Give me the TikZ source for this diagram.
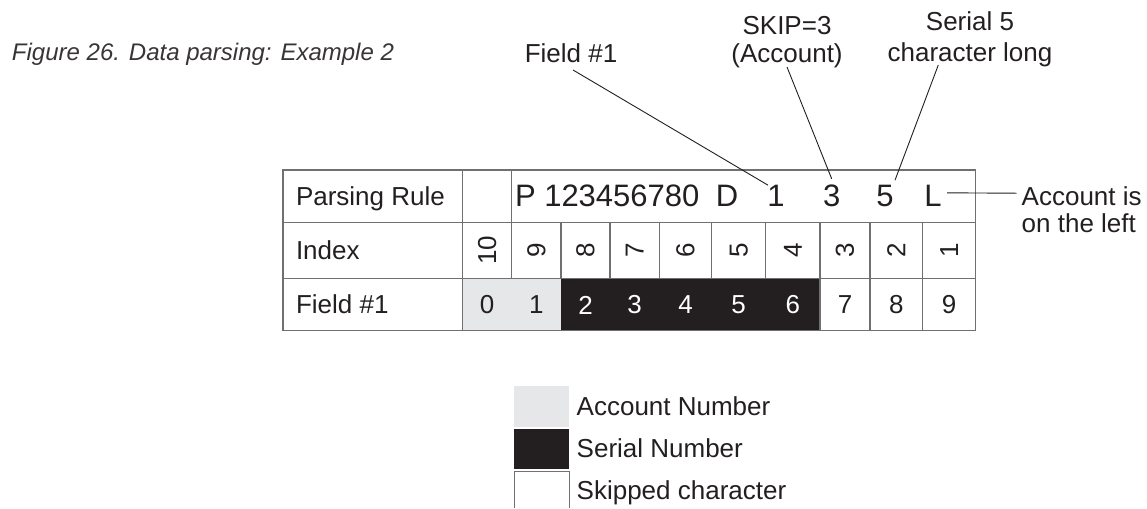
\documentclass[tikz,border=0pt]{standalone}
\usepackage{fontspec}
\setmainfont{Liberation Sans}
\definecolor{ink}{HTML}{231F20}
\definecolor{lightfill}{HTML}{E6E7E8}
\definecolor{gridc}{HTML}{707072}
\begin{document}
\begin{tikzpicture}[x=1pt,y=-1pt,
  every node/.style={inner sep=0pt, outer sep=0pt, text=ink},
  lbl/.style={font=\fontsize{26}{31}\selectfont},
  rulestr/.style={font=\fontsize{31}{37}\selectfont},
  capt/.style={font=\fontsize{24}{29}\selectfont\itshape, text=ink!90},
  gridline/.style={draw=gridc, line width=1.3pt},
  leader/.style={draw=ink, line width=0.9pt},
  legbox/.style={minimum width=54.7pt, anchor=north west}
]
\useasboundingbox (0,0) rectangle (1147,508);

% caption
\node[capt, anchor=base west] (cap) at (12,61) {Figure 26. Data parsing: Example 2};

% shaded cells
\fill[lightfill] (462.7,278.5) rectangle (561,330.5);
\fill[ink] (561,278.5) rectangle (820,330.5);

% table grid
\draw[gridline] (283,170) rectangle (975.5,330.5);
\draw[gridline] (283,222.5) -- (975.5,222.5);
\draw[gridline] (283,278.5) -- (975.5,278.5);
\draw[gridline] (462.7,170) -- (462.7,330.5);
\draw[gridline] (511.7,170) -- (511.7,278.5);
\foreach \x in {561,610,659.3,711.7,765.7} \draw[gridline] (\x,222.5) -- (\x,278.5);
\foreach \x in {820,870,922.7} \draw[gridline] (\x,222.5) -- (\x,330.5);

% row labels
\node[lbl, anchor=base west] (plabel) at (296,205) {Parsing Rule};
\node[lbl, anchor=base west] (ilabel) at (296,259.5) {Index};
\node[lbl, anchor=base west] (flabel) at (296,313.5) {Field \#1};

% parsing rule string
\node[rulestr, anchor=base west] (rP) at (515,206.5) {P 123456780};
\node[rulestr, anchor=base] (rD) at (727,206.5) {D};
\node[rulestr, anchor=base] (r1) at (776,206.5) {1};
\node[rulestr, anchor=base] (r3) at (831.7,206.5) {3};
\node[rulestr, anchor=base] (r5) at (885,206.5) {5};
\node[rulestr, anchor=base] (rL) at (933,206.5) {L};

% index row (rotated)
\foreach \c/\t in {487.2/10, 536.35/9, 585.5/8, 634.65/7, 685.5/6, 738.7/5, 792.85/4, 845/3, 896.35/2, 949.1/1}
  \node[lbl, rotate=90] (idx\t) at (\c,250.5) {\t};

% field row
\foreach \c/\t in {487.2/0, 536.35/1}
  \node[lbl] (fld\t) at (\c,305) {\t};
\foreach \c/\t in {585.5/2, 634.65/3, 685.5/4, 738.7/5, 792.85/6}
  \node[lbl, text=white] (fld\t) at (\c,305) {\t};
\foreach \c/\t in {845/7, 896.35/8, 949.1/9}
  \node[lbl] (fld\t) at (\c,305) {\t};

% annotations
\node[lbl, anchor=base] (fieldlbl) at (571,63) {Field \#1};
\node[lbl, anchor=base] (skipA) at (787,35) {SKIP=3};
\node[lbl, anchor=base] (skipB) at (787,63) {(Account)};
\node[lbl, anchor=base] (serA) at (970,31) {Serial 5};
\node[lbl, anchor=base] (serB) at (970,62) {character long};
\node[lbl, anchor=base west] (acc1) at (1021.7,205.5) {Account is};
\node[lbl, anchor=base west] (acc2) at (1021.7,232) {on the left};

% leader lines
\draw[leader] ([xshift=2pt,yshift=-7pt]fieldlbl.base) -- ([xshift=-8pt]r1.north);
\draw[leader] ([yshift=-4pt]skipB.base) -- ([yshift=6pt]r3.north);
\draw[leader] ([xshift=-31.7pt,yshift=-3pt]serB.base) -- ([xshift=10pt,yshift=5pt]r5.north);
\draw[leader] ([xshift=5.5pt,yshift=3pt]rL.east) -- ([xshift=-5pt,yshift=3pt]acc1.west);

% legend
\node[legbox, fill=lightfill, minimum height=40.7pt] (legA) at (514.3,386) {};
\node[legbox, fill=ink, minimum height=40pt] (legS) at (514.3,429) {};
\node[legbox, minimum height=37pt] (legK) at (514.3,471) {};
\draw[draw=gridc, line width=1pt] (legK.south west) |- (legK.north east) -- (legK.south east);
\node[lbl, anchor=base west] (legAt) at (576.7,415) {Account Number};
\node[lbl, anchor=base west] (legSt) at (576.7,457.3) {Serial Number};
\node[lbl, anchor=base west] (legKt) at (576.7,499) {Skipped character};
\end{tikzpicture}
\end{document}
